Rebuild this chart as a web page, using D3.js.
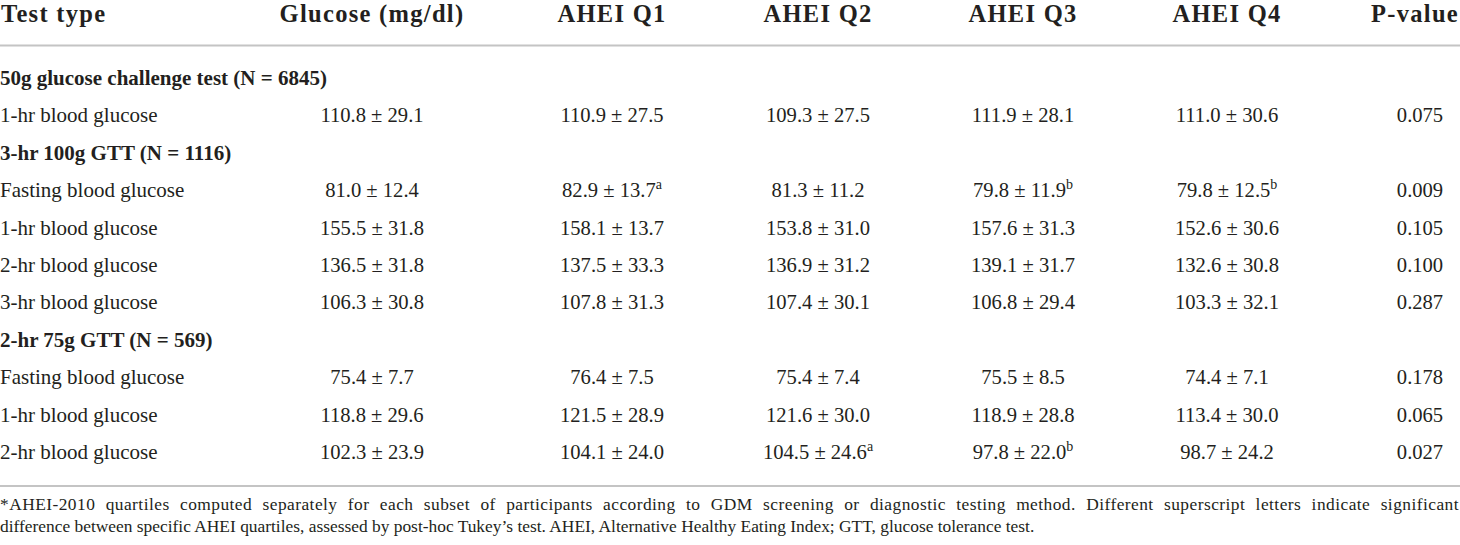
<!DOCTYPE html>
<html><head><meta charset="utf-8">
<script src="https://cdn.jsdelivr.net/npm/d3@7"></script>
<style>
html,body{margin:0;padding:0;background:#fff;}
svg{display:block;}
text{font-family:"Liberation Serif","Times New Roman",serif;fill:#231f20;}
</style></head>
<body><svg id="c" width="1460" height="545"></svg>
<script>
// ---- data ----
const headers = ["Test type", "Glucose (mg/dl)", "AHEI Q1", "AHEI Q2", "AHEI Q3", "AHEI Q4", "P-value"];
const groupTitles = ["50g glucose challenge test (N = 6845)", "3-hr 100g GTT (N = 1116)", "2-hr 75g GTT (N = 569)"];
const rowLabels = [
  ["1-hr blood glucose"],
  ["Fasting blood glucose", "1-hr blood glucose", "2-hr blood glucose", "3-hr blood glucose"],
  ["Fasting blood glucose", "1-hr blood glucose", "2-hr blood glucose"]
];
const glucose = ["110.8 ± 29.1", "81.0 ± 12.4", "155.5 ± 31.8", "136.5 ± 31.8", "106.3 ± 30.8", "75.4 ± 7.7", "118.8 ± 29.6", "102.3 ± 23.9"];
const q1 = ["110.9 ± 27.5", "82.9 ± 13.7|a", "158.1 ± 13.7", "137.5 ± 33.3", "107.8 ± 31.3", "76.4 ± 7.5", "121.5 ± 28.9", "104.1 ± 24.0"];
const q2 = ["109.3 ± 27.5", "81.3 ± 11.2", "153.8 ± 31.0", "136.9 ± 31.2", "107.4 ± 30.1", "75.4 ± 7.4", "121.6 ± 30.0", "104.5 ± 24.6|a"];
const q3 = ["111.9 ± 28.1", "79.8 ± 11.9|b", "157.6 ± 31.3", "139.1 ± 31.7", "106.8 ± 29.4", "75.5 ± 8.5", "118.9 ± 28.8", "97.8 ± 22.0|b"];
const q4 = ["111.0 ± 30.6", "79.8 ± 12.5|b", "152.6 ± 30.6", "132.6 ± 30.8", "103.3 ± 32.1", "74.4 ± 7.1", "113.4 ± 30.0", "98.7 ± 24.2"];
const pvalues = ["0.075", "0.009", "0.105", "0.100", "0.287", "0.178", "0.065", "0.027"];
const footnote = [
  "*AHEI-2010 quartiles computed separately for each subset of participants according to GDM screening or diagnostic testing method. Different superscript letters indicate significant",
  "difference between specific AHEI quartiles, assessed by post-hoc Tukey’s test. AHEI, Alternative Healthy Eating Index; GTT, glucose tolerance test."
];

// ---- layout ----
const W = 1460;
const svg = d3.select("#c");
const colKeys = headers.slice(1);
const colX = d3.scaleOrdinal().domain(colKeys).range([372, 612, 818, 1023, 1227, 1420]);
const rowY = d3.scaleLinear().domain([0, 10]).range([85, 459]);

// build flat row list
const rows = [];
let dataIdx = 0;
groupTitles.forEach((g, gi) => {
  rows.push({type: "group", label: g});
  rowLabels[gi].forEach(l => {
    rows.push({type: "data", label: l, cells: [glucose, q1, q2, q3, q4, pvalues].map(a => a[dataIdx])});
    dataIdx++;
  });
});

// header
const hdrStyle = sel => sel.style("font-size", "24.5px").style("font-weight", "bold")
  .style("letter-spacing", "1.3px");
svg.append("text").attr("x", 1).attr("y", 22).call(hdrStyle).text(headers[0]);
svg.selectAll("text.hdr").data(colKeys).join("text").attr("class", "hdr")
  .attr("x", (d, i) => i === colKeys.length - 1 ? W - 1 : colX(d))
  .attr("y", 22)
  .attr("text-anchor", (d, i) => i === colKeys.length - 1 ? "end" : "middle")
  .call(hdrStyle).text(d => d);

// rules
svg.append("line").attr("x1", 0).attr("x2", W).attr("y1", 45.5).attr("y2", 45.5)
  .attr("stroke", "#c4c4c4").attr("stroke-width", 2);
svg.append("line").attr("x1", 0).attr("x2", W).attr("y1", 486).attr("y2", 486)
  .attr("stroke", "#c4c4c4").attr("stroke-width", 2);

// rows
const rg = svg.selectAll("g.row").data(rows).join("g").attr("class", "row")
  .attr("transform", (d, i) => `translate(0,${rowY(i)})`);
rg.append("text").attr("x", 0).attr("y", 0)
  .style("font-size", "21px")
  .style("font-weight", d => d.type === "group" ? "bold" : "normal")
  .text(d => d.label);
rg.filter(d => d.type === "data").each(function(d) {
  const g = d3.select(this);
  d.cells.forEach((c, ci) => {
    const [val, sup] = c.split("|");
    const t = g.append("text").attr("x", colX(colKeys[ci])).attr("y", 0)
      .attr("text-anchor", "middle").style("font-size", "20.6px");
    t.append("tspan").text(val);
    if (sup) t.append("tspan").attr("dy", -8).style("font-size", "14px").text(sup);
  });
});

// footnote (first line justified: slight letter spacing + word spacing)
const fn1 = svg.append("text").attr("x", 0).attr("y", 510).style("font-size", "17.4px")
  .style("letter-spacing", "0.45px").text(footnote[0]);
const natural = fn1.node().getComputedTextLength();
const spaces = (footnote[0].match(/ /g) || []).length;
if (spaces > 0 && natural < W - 1) fn1.style("word-spacing", ((W - 1 - natural) / spaces) + "px");
svg.append("text").attr("x", 0).attr("y", 532).style("font-size", "17.4px").text(footnote[1]);
</script></body></html>
